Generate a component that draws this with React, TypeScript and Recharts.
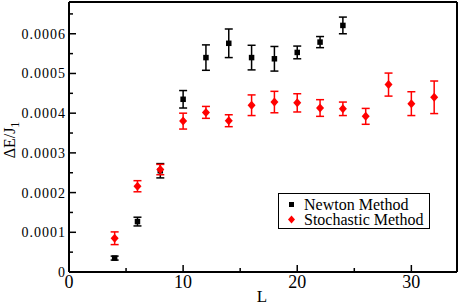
import React from "react";
import { ScatterChart, Scatter, XAxis, YAxis, ErrorBar } from "recharts";

// lattice sizes
const newtonL = [4, 6, 8, 10, 12, 14, 16, 18, 20, 22, 24];
const newtonGap = [0.000035, 0.000127, 0.000255, 0.000435, 0.00054, 0.000576, 0.00054, 0.000537, 0.000553, 0.000579, 0.000621];
const newtonErr = [0.000005, 0.000011, 0.000018, 0.000022, 0.000032, 0.000036, 0.000031, 0.000031, 0.000016, 0.000014, 0.000021];

const stochL = [4, 6, 8, 10, 12, 14, 16, 18, 20, 22, 24, 26, 28, 30, 32];
const stochGap = [0.000085, 0.000216, 0.000258, 0.00038, 0.000402, 0.000381, 0.00042, 0.000428, 0.000426, 0.000413, 0.000411, 0.000392, 0.000472, 0.000424, 0.00044];
const stochErr = [0.000016, 0.000014, 0.000013, 0.00002, 0.000015, 0.000015, 0.000026, 0.000027, 0.000023, 0.000021, 0.000017, 0.00002, 0.000029, 0.00003, 0.000041];

const xTicks = [0, 5, 10, 15, 20, 25, 30];
const yTicks = [0, 0.00005, 0.0001, 0.00015, 0.0002, 0.00025, 0.0003, 0.00035, 0.0004, 0.00045, 0.0005, 0.00055, 0.0006, 0.00065];

const newtonData = newtonL.map((L, i) => ({ L, v: newtonGap[i], e: newtonErr[i] }));
const stochData = stochL.map((L, i) => ({ L, v: stochGap[i], e: stochErr[i] }));

const FONT = "Liberation Serif, Times New Roman, serif";
const RED = "#ff0000";

const isMajorX = (v: number) => v % 10 === 0;
const isMajorY = (v: number) => Math.round(v / 0.00005) % 2 === 0;

function BottomTick(props: any) {
  const { x, y, payload } = props;
  const major = isMajorX(payload.value);
  return (
    <g>
      <line x1={x} y1={y} x2={x} y2={y - (major ? 7 : 4)} stroke="#000" strokeWidth={1.5} />
      {major && (
        <text x={x} y={y + 16} textAnchor="middle" style={{ fontSize: 18, fontFamily: FONT }} fill="#000">
          {payload.value}
        </text>
      )}
    </g>
  );
}

function TopTick(props: any) {
  const { x, y, payload } = props;
  const major = isMajorX(payload.value);
  return <line x1={x} y1={y} x2={x} y2={y + (major ? 7 : 4)} stroke="#000" strokeWidth={1.5} />;
}

function LeftTick(props: any) {
  const { x, y, payload } = props;
  const major = isMajorY(payload.value);
  return (
    <g>
      <line x1={x} y1={y} x2={x + (major ? 7 : 4)} y2={y} stroke="#000" strokeWidth={1.5} />
      {major && (
        <text x={x - 3} y={y + 5} textAnchor="end" style={{ fontSize: 14, letterSpacing: 1, fontFamily: FONT }} fill="#000">
          {payload.value === 0 ? "0" : payload.value.toFixed(4)}
        </text>
      )}
    </g>
  );
}

function RightTick(props: any) {
  const { x, y, payload } = props;
  const major = isMajorY(payload.value);
  return <line x1={x} y1={y} x2={x - (major ? 7 : 4)} y2={y} stroke="#000" strokeWidth={1.5} />;
}

const Square = (p: any) => <rect x={p.cx - 2.75} y={p.cy - 2.75} width={5.5} height={5.5} fill="#000" />;
const Diamond = (p: any) => (
  <polygon points={`${p.cx},${p.cy - 4.5} ${p.cx + 4},${p.cy} ${p.cx},${p.cy + 4.5} ${p.cx - 4},${p.cy}`} fill={RED} />
);

const YLabel = () => (
  <text x={15} y={140} transform="rotate(-90, 15, 140)" textAnchor="middle" style={{ fontSize: 16, fontFamily: FONT }} fill="#000">
    ΔE/J<tspan dy={4} style={{ fontSize: 12 }}>1</tspan>
  </text>
);

const XLabel = () => (
  <text x={262} y={302} textAnchor="middle" style={{ fontSize: 17, fontFamily: FONT }} fill="#000">
    L
  </text>
);

export default function App() {
  const axisLine = { stroke: "#000", strokeWidth: 2 };
  return (
    <div style={{ position: "absolute", left: 0, top: 0, width: 458, height: 306, background: "#fff" }}>
      <ScatterChart width={458} height={306} margin={{ top: 0, right: 0, bottom: 0, left: 0 }}>
        <XAxis
          dataKey="L"
          type="number"
          domain={[0, 34]}
          ticks={xTicks}
          interval={0}
          height={34}
          tickSize={0}
          tickMargin={0}
          tickLine={false}
          axisLine={axisLine}
          tick={<BottomTick />}
          label={<XLabel />}
        />
        <XAxis
          xAxisId="top"
          orientation="top"
          dataKey="L"
          type="number"
          domain={[0, 34]}
          ticks={xTicks}
          interval={0}
          height={2}
          tickSize={0}
          tickMargin={0}
          tickLine={false}
          axisLine={axisLine}
          tick={<TopTick />}
        />
        <YAxis
          dataKey="v"
          type="number"
          domain={[0, 0.00068]}
          ticks={yTicks}
          interval={0}
          width={69}
          tickSize={0}
          tickMargin={0}
          tickLine={false}
          axisLine={axisLine}
          tick={<LeftTick />}
          label={<YLabel />}
        />
        <YAxis
          yAxisId="right"
          orientation="right"
          dataKey="v"
          type="number"
          domain={[0, 0.00068]}
          ticks={yTicks}
          interval={0}
          width={1}
          tickSize={0}
          tickMargin={0}
          tickLine={false}
          axisLine={axisLine}
          tick={<RightTick />}
        />
        <Scatter name="Newton Method" data={newtonData} shape={Square} isAnimationActive={false}>
          <ErrorBar dataKey="e" direction="y" width={4} stroke="#000" strokeWidth={1.5} />
        </Scatter>
        <Scatter name="Stochastic Method" data={stochData} shape={Diamond} isAnimationActive={false}>
          <ErrorBar dataKey="e" direction="y" width={4} stroke={RED} strokeWidth={1.5} />
        </Scatter>
      </ScatterChart>
      <div
        style={{
          position: "absolute",
          left: 278,
          top: 193,
          width: 150,
          height: 34,
          border: "1.5px solid #000",
          background: "#fff",
          fontFamily: FONT,
          fontSize: 16,
          lineHeight: "15px",
          color: "#000",
        }}
      >
        <div style={{ position: "relative", height: 15, marginTop: 3 }}>
          <span style={{ position: "absolute", left: 10, top: 5, width: 4.5, height: 4.5, background: "#000" }} />
          <span style={{ position: "absolute", left: 25, top: 0, whiteSpace: "nowrap" }}>Newton Method</span>
        </div>
        <div style={{ position: "relative", height: 15 }}>
          <svg style={{ position: "absolute", left: 8, top: 3 }} width={9} height={9}>
            <polygon points="4.5,0.5 8,4.5 4.5,8.5 1,4.5" fill={RED} />
          </svg>
          <span style={{ position: "absolute", left: 25, top: 0, whiteSpace: "nowrap" }}>Stochastic Method</span>
        </div>
      </div>
    </div>
  );
}
